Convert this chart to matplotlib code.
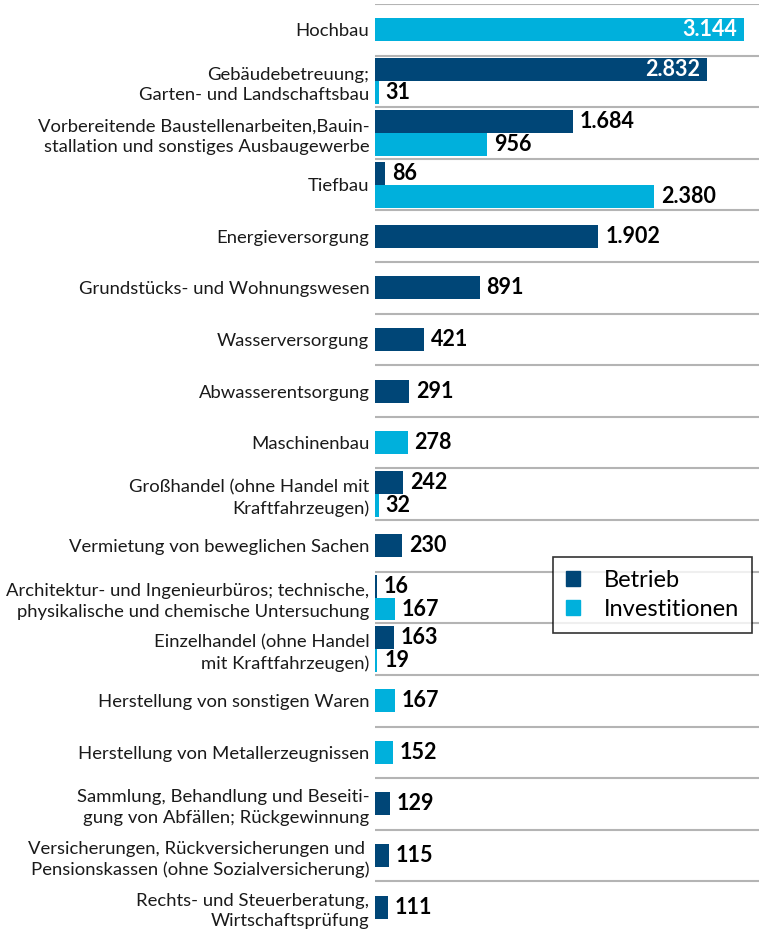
import matplotlib.pyplot as plt
from matplotlib.patches import Patch

plt.rcParams['font.family'] = ['Lato', 'DejaVu Sans']

# Kategorien (von oben nach unten)
kategorien = [
    'Hochbau',
    'Gebäudebetreuung;\nGarten- und Landschaftsbau',
    'Vorbereitende Baustellenarbeiten,Bauin-\nstallation und sonstiges Ausbaugewerbe',
    'Tiefbau',
    'Energieversorgung',
    'Grundstücks- und Wohnungswesen',
    'Wasserversorgung',
    'Abwasserentsorgung',
    'Maschinenbau',
    'Großhandel (ohne Handel mit\nKraftfahrzeugen)',
    'Vermietung von beweglichen Sachen',
    'Architektur- und Ingenieurbüros; technische,\nphysikalische und chemische Untersuchung',
    'Einzelhandel (ohne Handel\nmit Kraftfahrzeugen)',
    'Herstellung von sonstigen Waren',
    'Herstellung von Metallerzeugnissen',
    'Sammlung, Behandlung und Beseiti-\ngung von Abfällen; Rückgewinnung',
    'Versicherungen, Rückversicherungen und \nPensionskassen (ohne Sozialversicherung)',
    'Rechts- und Steuerberatung,\nWirtschaftsprüfung',
]
betrieb = [None, 2832, 1684, 86, 1902, 891, 421, 291, None, 242, 230, 16, 163,
           None, None, 129, 115, 111]
investitionen = [3144, 31, 956, 2380, None, None, None, None, 278, 32, None, 167, 19,
                 167, 152, None, None, None]

farbe_b = '#004677'
farbe_i = '#00b0dc'

fig = plt.figure(figsize=(7.59, 9.33), dpi=100)
ax = fig.add_axes([375 / 759, 0.0, 1 - 375 / 759, 1 - 4 / 933])

h = 0.445
for i, (b, inv) in enumerate(zip(betrieb, investitionen)):
    if b is not None and inv is not None:
        reihen = [(b, i - h / 2, farbe_b), (inv, i + h / 2, farbe_i)]
    elif b is not None:
        reihen = [(b, i, farbe_b)]
    else:
        reihen = [(inv, i, farbe_i)]
    for wert, y, farbe in reihen:
        ax.barh(y, wert, height=h, color=farbe)
        text = f'{wert:,}'.replace(',', '.')
        if wert > 2500:
            ax.annotate(text, (wert, y), xytext=(-5, 0), textcoords='offset points',
                        ha='right', va='center', color='white', fontsize=15.5, fontweight='bold')
        else:
            ax.annotate(text, (wert, y), xytext=(5, 0), textcoords='offset points',
                        ha='left', va='center', color='black', fontsize=15.5, fontweight='bold')

# Trennlinien zwischen den Kategorien
for k in range(len(kategorien)):
    ax.axhline(k - 0.5, color='#b4b4b4', lw=1.5, zorder=0)

ax.set_xlim(0, 3271)
ax.set_ylim(len(kategorien) - 0.5, -0.5)
ax.set_yticks(range(len(kategorien)))
ax.set_yticklabels(kategorien, fontsize=13.3, color='#1a1a1a', linespacing=1.35)
ax.tick_params(axis='y', length=0, pad=4)
ax.set_xticks([])
for s in ax.spines.values():
    s.set_visible(False)

leg = fig.legend(handles=[Patch(color=farbe_b, label='Betrieb'),
                          Patch(color=farbe_i, label='Investitionen')],
                 loc='upper left', bbox_to_anchor=(553 / 759, 1 - 557 / 933),
                 fontsize=17, frameon=True, fancybox=False, edgecolor='black',
                 handlelength=0.6, handleheight=0.6, handletextpad=1.0,
                 labelspacing=0.35, borderpad=0.55, borderaxespad=0)
leg.get_frame().set_linewidth(1.2)

fig.savefig('out.png', dpi=100)
